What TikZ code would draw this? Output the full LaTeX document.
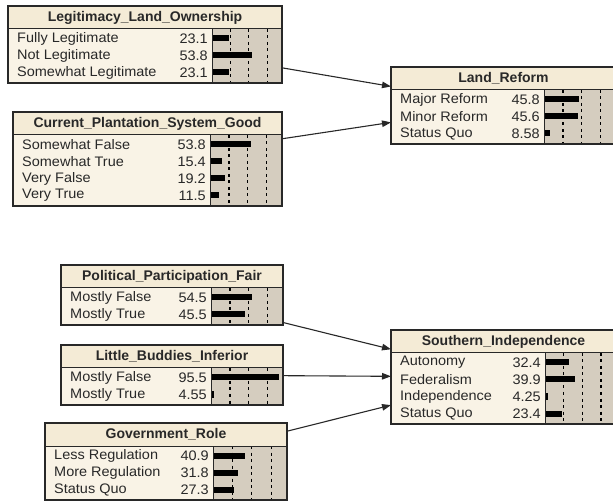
\documentclass[tikz,border=0pt]{standalone}
\usepackage{fontspec}
\setmainfont{Liberation Sans}
\newfontfamily\statefont[FakeStretch=1.05]{Liberation Sans}
\usetikzlibrary{arrows.meta}
\definecolor{titlebg}{RGB}{244,235,214}
\definecolor{bodybg}{RGB}{249,243,230}
\definecolor{barbg}{RGB}{213,205,191}
\definecolor{inkcol}{RGB}{40,40,40}
\tikzset{
  boxframe/.style={draw=inkcol, line width=1.3pt, rectangle, inner sep=0pt, outer sep=0pt, fill=none},
  sepline/.style={draw=inkcol, line width=1pt},
  dashline/.style={draw=black, line width=1.2pt, dash pattern=on 3pt off 3.5pt},
  barfill/.style={fill=black},
  statetext/.style={inner sep=0pt, text=inkcol, font=\statefont\fontsize{13.8}{14}\selectfont},
  valtext/.style={inner sep=0pt, text=inkcol, font=\statefont\fontsize{13.8}{14}\selectfont},
  titletext/.style={inner sep=0pt, text=inkcol, font=\fontsize{14}{15}\selectfont\bfseries},
  link/.style={draw=inkcol, line width=1.1pt, -{Triangle[length=9pt,width=6.5pt]}}
}
% #1 name, #2 x0, #3 x1, #4 top, #5 bar left, #6 rows, #7 title, #8 label/value list
\newcommand{\bnbox}[8]{%
  \pgfmathsetmacro{\bnS}{#4+23}%
  \pgfmathsetmacro{\bnB}{\bnS+17*#6+3}%
  \pgfmathsetmacro{\bnW}{#3-#5}%
  \pgfmathsetmacro{\bnK}{1.05*\bnW}%
  \fill[titlebg] (#2,#4) rectangle (#3,\bnS);
  \fill[bodybg] (#2,\bnS) rectangle (#5,\bnB);
  \fill[barbg] (#5,\bnS) rectangle (#3,\bnB);
  \foreach \f in {0.25,0.5,0.75}
    \draw[dashline] ({#5+\f*\bnK},\bnS) -- ({#5+\f*\bnK},\bnB);
  \foreach \lab/\val [count=\i from 0] in {#8} {
    \pgfmathsetmacro{\ry}{\bnS+9.5+17*\i}
    \pgfmathsetmacro{\bl}{min(\val/100*\bnK,\bnW-4)}
    \node[statetext, anchor=west] at ({#2+9},\ry) {\lab};
    \node[valtext, anchor=east] at ({#5-4},\ry) {\val};
    \fill[barfill] (#5,\ry-3) rectangle ({#5+\bl},\ry+3);
  }
  \draw[sepline] (#2,\bnS) -- (#3,\bnS);
  \draw[sepline] (#5,\bnS) -- (#5,\bnB);
  \node[boxframe, minimum width={#3-#2}, minimum height={\bnB-#4}] (#1) at ({(#2+#3)/2},{(#4+\bnB)/2}) {};
  \node[titletext] at ({(#2+#3)/2},{#4+11.5}) {#7};
}
\begin{document}
\begin{tikzpicture}[x=1pt,y=-1pt]
\useasboundingbox (0,0) rectangle (613,502);
\fill[white] (0,0) rectangle (613,502);
\begin{scope}
\clip (0,0) rectangle (613,502);
\bnbox{legit}{8}{282}{6}{212}{3}{Legitimacy\_Land\_Ownership}{Fully Legitimate/23.1, Not Legitimate/53.8, Somewhat Legitimate/23.1}
\bnbox{plant}{13}{282}{112}{210}{4}{Current\_Plantation\_System\_Good}{Somewhat False/53.8, Somewhat True/15.4, Very False/19.2, Very True/11.5}
\bnbox{land}{391}{616}{67}{544}{3}{Land\_Reform}{Major Reform/45.8, Minor Reform/45.6, Status Quo/8.58}
\bnbox{polit}{61}{283}{265}{211}{2}{Political\_Participation\_Fair}{Mostly False/54.5, Mostly True/45.5}
\bnbox{buddy}{61}{283}{345}{211}{2}{Little\_Buddies\_Inferior}{Mostly False/95.5, Mostly True/4.55}
\bnbox{govt}{45}{287}{423}{213}{3}{Government\_Role}{Less Regulation/40.9, More Regulation/31.8, Status Quo/27.3}
\bnbox{south}{391}{616}{330}{545}{4}{Southern\_Independence}{Autonomy/32.4, Federalism/39.9, Independence/4.25, Status Quo/23.4}
\draw[link] (legit) -- (land);
\draw[link] (plant) -- (land);
\draw[link] (polit) -- (south);
\draw[link] (buddy) -- (south);
\draw[link] (govt) -- (south);
\end{scope}
\end{tikzpicture}
\end{document}
